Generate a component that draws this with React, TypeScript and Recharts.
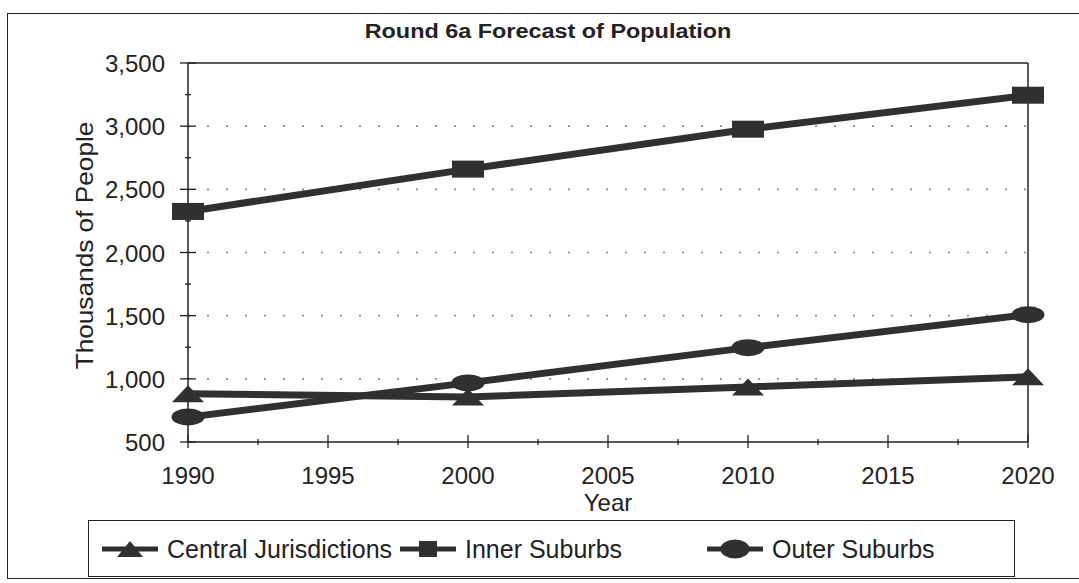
import { Legend, Line, LineChart, ReferenceLine, XAxis, YAxis } from "recharts";

const years = [1990, 2000, 2010, 2020];
const centralJurisdictions = [881, 857, 936, 1016];
const innerSuburbs = [2325, 2660, 2976, 3245];
const outerSuburbs = [697, 968, 1247, 1508];

const yTicks = [500, 750, 1000, 1250, 1500, 1750, 2000, 2250, 2500, 2750, 3000, 3250, 3500];
const xTicks = [1990, 1992.5, 1995, 1997.5, 2000, 2002.5, 2005, 2007.5, 2010, 2012.5, 2015, 2017.5, 2020];
const gridValues = [1000, 1500, 2000, 2500, 3000];

const INK = "#222";
const SERIES = "#303030";
const FONT = '"Liberation Sans", Arial, sans-serif';

const rows = years.map((year, i) => ({
  year,
  central: centralJurisdictions[i],
  inner: innerSuburbs[i],
  outer: outerSuburbs[i],
}));

function TriangleDot({ cx, cy }: any) {
  if (cx == null || cy == null) return null;
  return <polygon points={`${cx - 16},${cy + 8.5} ${cx + 16},${cy + 8.5} ${cx},${cy - 8.5}`} fill={SERIES} />;
}

function SquareDot({ cx, cy }: any) {
  if (cx == null || cy == null) return null;
  return <rect x={cx - 16} y={cy - 8.5} width={32} height={17} fill={SERIES} />;
}

function EllipseDot({ cx, cy }: any) {
  if (cx == null || cy == null) return null;
  return <ellipse cx={cx} cy={cy} rx={16.5} ry={8.5} fill={SERIES} />;
}

function YTick({ x, y, payload }: any) {
  const v = Number(payload.value);
  const major = v % 500 === 0;
  const len = major ? 8 : 3;
  return (
    <g>
      <line x1={x - len} x2={x + len} y1={y} y2={y} stroke={INK} strokeWidth={1.3} />
      {major && (
        <text x={x - 23} y={y + 9} textAnchor="end" fontSize={24} fontFamily={FONT} fill={INK}>
          {v.toLocaleString("en-US")}
        </text>
      )}
    </g>
  );
}

function XTick({ x, y, payload }: any) {
  const v = Number(payload.value);
  const major = v % 5 === 0;
  return (
    <g>
      <line x1={x} x2={x} y1={y - (major ? 7 : 3)} y2={y + (major ? 6 : 3)} stroke={INK} strokeWidth={1.3} />
      {major && (
        <text x={x} y={y + 42} textAnchor="middle" fontSize={24} fontFamily={FONT} fill={INK}>
          {v}
        </text>
      )}
    </g>
  );
}

function YAxisTitle({ viewBox }: any) {
  if (!viewBox) return null;
  const x = viewBox.x + 5;
  const y = viewBox.y + viewBox.height / 2 - 7;
  return (
    <text
      transform={`translate(${x},${y}) rotate(-90) scale(1.14,1)`}
      textAnchor="middle"
      fontSize={23}
      fontFamily={FONT}
      fill={INK}
    >
      Thousands of People
    </text>
  );
}

function LegendIcon({ kind }: { kind: string }) {
  return (
    <svg width={58} height={24} style={{ display: "block" }}>
      <line x1={1} x2={57} y1={12} y2={12} stroke={SERIES} strokeWidth={5} />
      {kind === "central" && <polygon points="16,20 42,20 29,4" fill={SERIES} />}
      {kind === "inner" && <rect x={20} y={4} width={18} height={16} fill={SERIES} />}
      {kind === "outer" && <ellipse cx={29} cy={12} rx={14.5} ry={9.5} fill={SERIES} />}
    </svg>
  );
}

const legendOffsets: Record<string, number> = { central: 12, inner: 310, outer: 617 };

function LegendBox({ payload }: any) {
  return (
    <div style={{ position: "relative", width: "100%", height: "100%", fontFamily: FONT, fontSize: 25, color: INK }}>
      {(payload || []).map((item: any) => (
        <div
          key={item.dataKey}
          style={{ position: "absolute", left: legendOffsets[item.dataKey], top: 16, display: "flex", alignItems: "center", whiteSpace: "nowrap" }}
        >
          <LegendIcon kind={item.dataKey} />
          <span style={{ marginLeft: 8, lineHeight: "24px" }}>{item.value}</span>
        </div>
      ))}
    </div>
  );
}

export default function App() {
  return (
    <div style={{ position: "absolute", left: 0, top: 0, width: 1079, height: 583, overflow: "hidden", background: "#fff" }}>
      <div style={{ position: "absolute", left: 7, top: 13, width: 1100, height: 566, border: `1.5px solid ${INK}`, boxSizing: "border-box" }} />
      <div
        style={{
          position: "absolute",
          left: 0,
          width: 1096,
          top: 20,
          textAlign: "center",
          fontFamily: FONT,
          fontWeight: "bold",
          fontSize: 20,
          color: INK,
          transform: "scaleX(1.17)",
          transformOrigin: "548px 0",
        }}
      >
        Round 6a Forecast of Population
      </div>
      <LineChart width={1079} height={583} data={rows} margin={{ top: 63, right: 51, bottom: 91, left: 88 }}>
        <XAxis
          dataKey="year"
          type="number"
          domain={[1990, 2020]}
          ticks={xTicks}
          interval={0}
          tickSize={0}
          tickMargin={0}
          tickLine={false}
          tick={<XTick />}
          height={50}
          axisLine={{ stroke: INK, strokeWidth: 1.5 }}
          label={{ value: "Year", position: "bottom", offset: 2, fontSize: 24, fontFamily: FONT, fill: INK }}
        />
        <YAxis
          type="number"
          domain={[500, 3500]}
          ticks={yTicks}
          interval={0}
          tickSize={0}
          tickMargin={0}
          tickLine={false}
          tick={<YTick />}
          width={100}
          axisLine={{ stroke: INK, strokeWidth: 1.5 }}
          label={<YAxisTitle />}
        />
        {gridValues.map((v) => (
          <ReferenceLine key={v} y={v} stroke="#8a8a8a" strokeWidth={1.6} strokeDasharray="2 17" />
        ))}
        <ReferenceLine y={3500} stroke={INK} strokeWidth={1.5} />
        <ReferenceLine x={2020} stroke={INK} strokeWidth={1.5} />
        <Legend
          layout="horizontal"
          verticalAlign="middle"
          align="center"
          content={<LegendBox />}
          wrapperStyle={{ left: 88, top: 520, width: 927, height: 57, border: `1.5px solid ${INK}`, boxSizing: "border-box" }}
        />
        <Line
          dataKey="central"
          name="Central Jurisdictions"
          stroke={SERIES}
          strokeWidth={7}
          dot={<TriangleDot />}
          activeDot={false}
          isAnimationActive={false}
        />
        <Line
          dataKey="inner"
          name="Inner Suburbs"
          stroke={SERIES}
          strokeWidth={7}
          dot={<SquareDot />}
          activeDot={false}
          isAnimationActive={false}
        />
        <Line
          dataKey="outer"
          name="Outer Suburbs"
          stroke={SERIES}
          strokeWidth={7}
          dot={<EllipseDot />}
          activeDot={false}
          isAnimationActive={false}
        />
      </LineChart>
    </div>
  );
}
